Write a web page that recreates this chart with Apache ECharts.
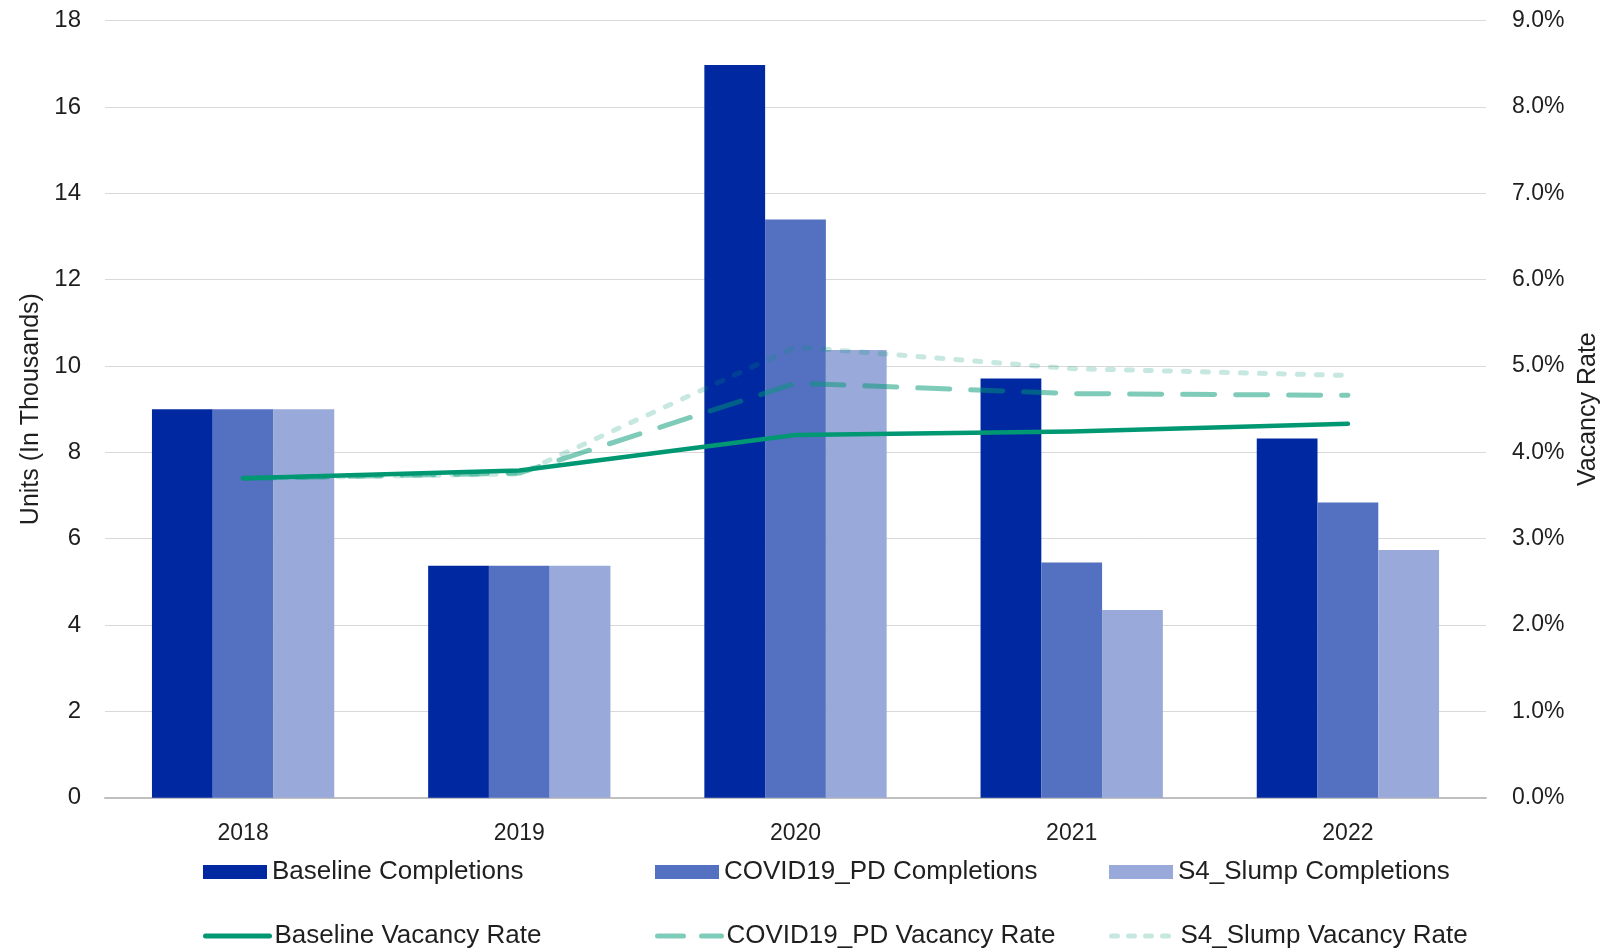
<!DOCTYPE html>
<html>
<head>
<meta charset="utf-8">
<script src="https://cdn.jsdelivr.net/npm/echarts@6/dist/echarts.min.js"></script>
<style>
  html, body { margin: 0; padding: 0; background: #ffffff; }
  #chart { width: 1618px; height: 948px; }
</style>
</head>
<body>
<div id="chart"></div>
<script>
const years = ['2018', '2019', '2020', '2021', '2022'];
const baselineCompletions = [9.0, 5.37, 16.97, 9.71, 8.32];
const covidCompletions = [9.0, 5.37, 13.39, 5.45, 6.84];
const slumpCompletions = [9.0, 5.37, 10.37, 4.35, 5.74];
const baselineVacancy = [3.70, 3.79, 4.20, 4.24, 4.33];
const covidVacancy = [3.70, 3.76, 4.80, 4.68, 4.66];
const slumpVacancy = [3.70, 3.75, 5.22, 4.97, 4.89];
const leftTicks = { min: 0, max: 18, interval: 2 };
const rightTicks = { min: 0, max: 9, interval: 1 };

const FONT = '"Liberation Sans", Arial, sans-serif';
const TXT = '#1f1f1f';

const C_BASE_LINE = '#009873';
const C_COVID_LINE = 'rgba(0,152,115,0.5)';
const C_SLUMP_LINE = 'rgba(0,152,115,0.22)';

const chart = echarts.init(document.getElementById('chart'), null, { renderer: 'canvas' });

function legendAt(name, left, top, icon, lineStyle) {
  const l = {
    left: left, top: top,
    data: [name],
    itemWidth: 64, itemHeight: 14, itemGap: 0,
    textStyle: { fontFamily: FONT, fontSize: 26, color: TXT, lineHeight: 30, padding: [0, 0, 0, 0] },
    selectedMode: false,
    padding: 0
  };
  if (icon) l.icon = icon;
  if (lineStyle) {
    l.lineStyle = lineStyle;
    l.itemStyle = { opacity: 0 };
  }
  return l;
}

const option = {
  backgroundColor: '#ffffff',
  animation: false,
  grid: { left: 105, right: 132, top: 20.6, bottom: 150.3, containLabel: false },
  legend: [
    legendAt('Baseline Completions', 203, 857, 'rect'),
    legendAt('COVID19_PD Completions', 655, 857, 'rect'),
    legendAt('S4_Slump Completions', 1109, 857, 'rect'),
    legendAt('Baseline Vacancy Rate', 203, 921, null,
      { color: C_BASE_LINE, width: 5, type: 'solid', cap: 'round' }),
    legendAt('COVID19_PD Vacancy Rate', 655, 921, null,
      { color: C_COVID_LINE, width: 5, type: [26, 18], cap: 'round' }),
    legendAt('S4_Slump Vacancy Rate', 1109, 921, null,
      { color: C_SLUMP_LINE, width: 5, type: [6, 11], cap: 'round' })
  ],
  xAxis: {
    type: 'category',
    data: years,
    axisTick: { show: false },
    axisLine: { lineStyle: { color: '#bfbfbf', width: 2 } },
    axisLabel: { fontFamily: FONT, fontSize: 23, color: TXT, margin: 24 }
  },
  yAxis: [
    {
      type: 'value',
      min: leftTicks.min, max: leftTicks.max, interval: leftTicks.interval,
      name: 'Units (In Thousands)',
      nameLocation: 'middle', nameRotate: 90, nameGap: 60,
      nameTextStyle: { fontFamily: FONT, fontSize: 25, color: TXT },
      axisLine: { show: false }, axisTick: { show: false },
      axisLabel: { fontFamily: FONT, fontSize: 24, color: TXT, margin: 24 },
      splitLine: { lineStyle: { color: '#d9d9d9', width: 1 } }
    },
    {
      type: 'value',
      min: rightTicks.min, max: rightTicks.max, interval: rightTicks.interval,
      name: 'Vacancy Rate',
      nameLocation: 'middle', nameRotate: 90, nameGap: 86,
      nameTextStyle: { fontFamily: FONT, fontSize: 25, color: TXT },
      axisLine: { show: false }, axisTick: { show: false },
      axisLabel: { fontFamily: FONT, fontSize: 23, color: TXT, margin: 26,
        formatter: v => v.toFixed(1) + '%' },
      splitLine: { show: false }
    }
  ],
  series: [
    { name: 'Baseline Completions', type: 'bar', data: baselineCompletions,
      itemStyle: { color: '#0029a1' }, barGap: '0%', barCategoryGap: '34%', z: 2 },
    { name: 'COVID19_PD Completions', type: 'bar', data: covidCompletions,
      itemStyle: { color: '#5470c0' }, barGap: '0%', barCategoryGap: '34%', z: 2 },
    { name: 'S4_Slump Completions', type: 'bar', data: slumpCompletions,
      itemStyle: { color: '#99aada' }, barGap: '0%', barCategoryGap: '34%', z: 2 },
    { name: 'Baseline Vacancy Rate', type: 'line', yAxisIndex: 1, data: baselineVacancy,
      symbol: 'none', z: 5,
      itemStyle: { color: C_BASE_LINE },
      lineStyle: { color: C_BASE_LINE, width: 4.5, cap: 'round', join: 'round' } },
    { name: 'COVID19_PD Vacancy Rate', type: 'line', yAxisIndex: 1, data: covidVacancy,
      symbol: 'none', z: 4,
      itemStyle: { color: C_COVID_LINE },
      lineStyle: { color: C_COVID_LINE, width: 5, type: [32, 21], cap: 'round', join: 'round' } },
    { name: 'S4_Slump Vacancy Rate', type: 'line', yAxisIndex: 1, data: slumpVacancy,
      symbol: 'none', z: 3,
      itemStyle: { color: C_SLUMP_LINE },
      lineStyle: { color: C_SLUMP_LINE, width: 5, type: [6, 13], cap: 'round', join: 'round' } }
  ]
};

chart.setOption(option);
</script>
</body>
</html>
